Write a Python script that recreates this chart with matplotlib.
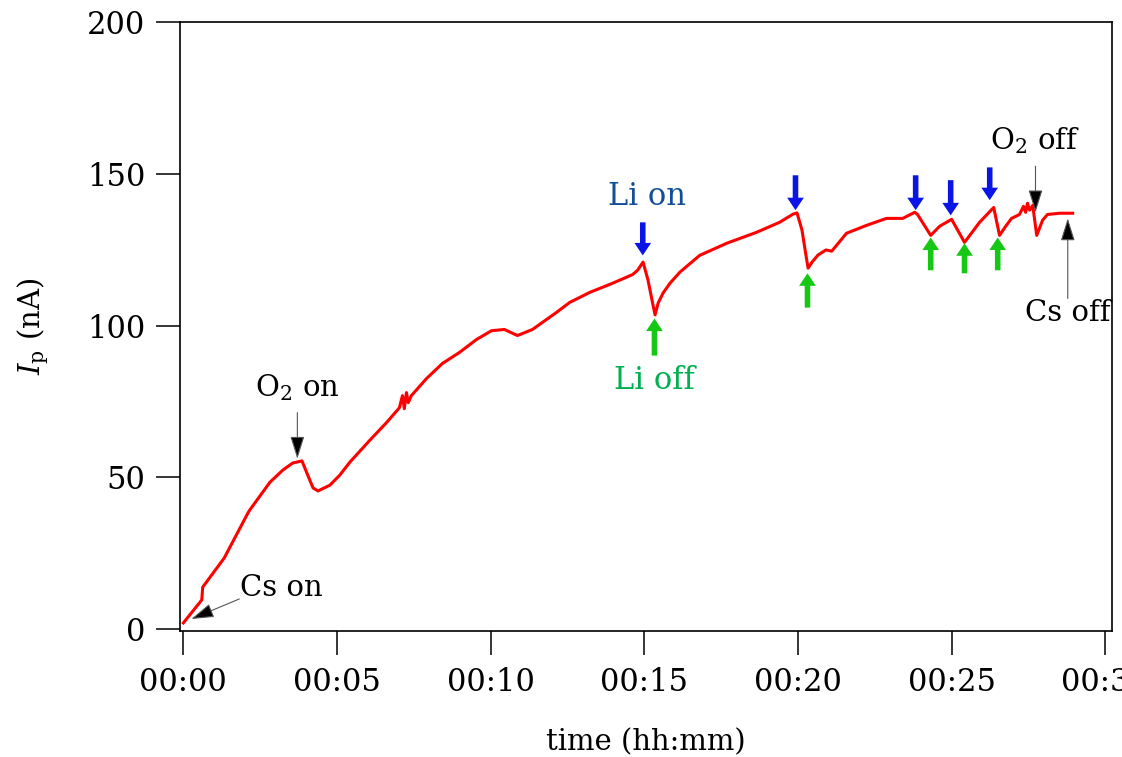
import matplotlib
matplotlib.use("Agg")
import matplotlib.pyplot as plt
from matplotlib.ticker import FuncFormatter, MultipleLocator

plt.rcParams["font.family"] = ["DejaVu Serif"]
plt.rcParams["mathtext.fontset"] = "dejavuserif"

# time in minutes, probe current in nA
t_min = [0.00, 0.60, 0.63, 1.33, 2.10, 2.16, 2.82, 3.24, 3.56, 3.86,
         4.02, 4.22, 4.38, 4.77, 5.09, 5.42, 6.05, 6.61, 7.03, 7.13,
         7.19, 7.26, 7.32, 7.42, 7.91, 8.43, 8.98, 9.54, 10.03, 10.45,
         10.87, 11.36, 12.14, 12.57, 13.22, 13.96, 14.62, 14.78, 14.96, 15.12,
         15.25, 15.35, 15.45, 15.61, 15.84, 16.16, 16.80, 17.68, 18.65, 19.40,
         19.84, 19.97, 20.13, 20.26, 20.33, 20.46, 20.65, 20.91, 21.10, 21.58,
         22.23, 22.88, 23.41, 23.80, 23.89, 24.32, 24.61, 25.00, 25.42, 25.91,
         26.37, 26.56, 26.76, 26.95, 27.21, 27.34, 27.41, 27.47, 27.54, 27.64,
         27.77, 27.96, 28.12, 28.52, 28.94]
i_na = [2.0, 9.6, 13.8, 23.4, 38.2, 39.2, 48.4, 52.4, 54.7, 55.4,
        51.4, 46.5, 45.5, 47.4, 50.7, 55.0, 62.0, 68.0, 72.9, 76.9,
        72.6, 77.9, 74.6, 76.9, 82.5, 87.5, 91.1, 95.4, 98.3, 98.7,
        96.7, 98.7, 104.3, 107.6, 110.9, 113.9, 116.8, 118.2, 120.9, 115.0,
        108.4, 103.5, 107.4, 110.7, 114.0, 117.6, 123.1, 127.1, 130.7, 134.0,
        136.7, 137.1, 131.5, 123.2, 118.9, 120.9, 123.2, 124.9, 124.5, 130.4,
        133.0, 135.3, 135.3, 137.3, 136.6, 129.7, 132.7, 135.0, 127.4, 134.0,
        138.9, 129.7, 132.7, 135.3, 136.6, 139.3, 137.3, 140.3, 138.0, 139.6,
        129.7, 134.7, 136.6, 137.0, 137.0]

# Li oven switched on (blue, down) / off (green, up): (time, tail, tip)
li_on = [(14.95, 134.0, 123.1), (19.92, 149.5, 138.0), (23.83, 149.5, 138.0),
         (24.97, 147.9, 136.3), (26.24, 152.1, 141.3)]
li_off = [(15.33, 90.1, 102.3), (20.31, 105.9, 117.2), (24.32, 118.2, 129.0),
          (25.42, 117.2, 127.1), (26.50, 118.2, 129.0)]

# black labels: text, text pos, arrow tail, arrow tip
events = [
    ("Cs on", (3.19, 13.5), (1.82, 9.9), (0.26, 3.3)),
    ("O$_2$ on", (3.71, 79.5), (3.71, 71.3), (3.71, 56.1)),
    ("O$_2$ off", (27.73, 161.0), (27.73, 152.5), (27.73, 137.3)),
    ("Cs off", (28.78, 104.0), (28.78, 108.9), (28.78, 135.3)),
]

fig = plt.figure(figsize=(11.22, 7.57), dpi=100)
ax = fig.add_axes([0.1604, 0.1664, 0.8307, 0.8045])

ax.plot(t_min, i_na, color="#ff0000", lw=2.2, solid_joinstyle="round")

fat = "simple,head_length=0.45,head_width=0.6,tail_width=0.2"
for t, tail, tip in li_on:
    ax.annotate("", xy=(t, tip), xytext=(t, tail),
                arrowprops=dict(arrowstyle=fat, color="#0a14e6", lw=0,
                                mutation_scale=20, shrinkA=0, shrinkB=0))
for t, tail, tip in li_off:
    ax.annotate("", xy=(t, tip), xytext=(t, tail),
                arrowprops=dict(arrowstyle=fat, color="#14c814", lw=0,
                                mutation_scale=20, shrinkA=0, shrinkB=0))

ax.text(15.10, 142.6, "Li on", color="#124f96", fontsize=22,
        ha="center", va="center")
ax.text(15.33, 81.8, "Li off", color="#00b050", fontsize=22,
        ha="center", va="center")

for label, pos, tail, tip in events:
    ax.text(pos[0], pos[1], label, fontsize=21, ha="center", va="center")
    ax.annotate("", xy=tip, xytext=tail,
                arrowprops=dict(arrowstyle="-|>,head_length=0.7,head_width=0.22",
                                lw=0.8, fc="black", ec="#555555",
                                mutation_scale=20, shrinkA=0, shrinkB=0))

ax.set_xlim(-0.11, 30.22)
ax.set_ylim(-0.66, 200)
ax.xaxis.set_major_locator(MultipleLocator(5))
ax.yaxis.set_major_locator(MultipleLocator(50))
ax.xaxis.set_major_formatter(FuncFormatter(
    lambda v, _: f"{int(v // 60):02d}:{int(round(v % 60)):02d}"))

ax.tick_params(direction="out", length=17, width=1.1, labelsize=22)
ax.tick_params(axis="x", pad=9)
ax.tick_params(axis="y", pad=8)
for sp in ax.spines.values():
    sp.set_linewidth(1.2)

ax.set_xlabel("time (hh:mm)", fontsize=21, labelpad=22)
ax.set_ylabel("$I_\\mathrm{p}$ (nA)", fontsize=21, labelpad=26)

fig.savefig("out.png", dpi=100)
